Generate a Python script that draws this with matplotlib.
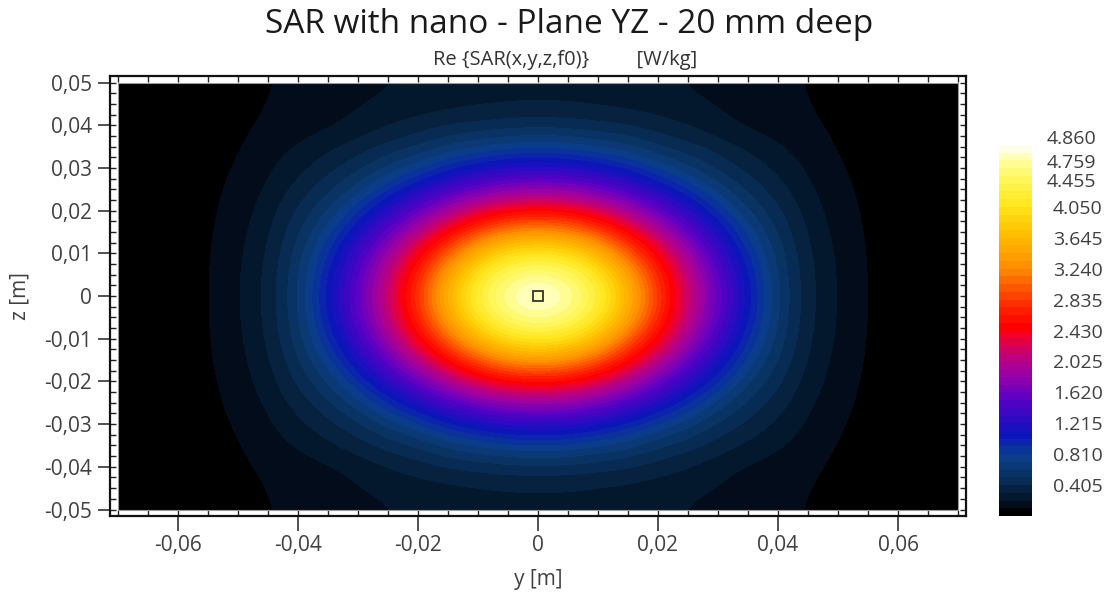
import numpy as np
import matplotlib
matplotlib.use("Agg")
import matplotlib.pyplot as plt
from matplotlib.colors import LinearSegmentedColormap, ListedColormap, Normalize
from matplotlib.ticker import FixedLocator, MultipleLocator, FuncFormatter
from matplotlib.patches import Rectangle
from matplotlib.transforms import offset_copy

plt.rcParams['font.family'] = ['Open Sans', 'DejaVu Sans']

# ---------------- data (one quadrant; the field is symmetric in y and z) ----------
y_quadrant = [0.0, 0.005, 0.01, 0.015, 0.02, 0.025, 0.03, 0.035, 0.04, 0.045, 0.05, 0.055, 0.06, 0.065, 0.07]
z_quadrant = [0.0, 0.005, 0.01, 0.015, 0.02, 0.025, 0.03, 0.035, 0.04, 0.045, 0.05]
sar_z000 = [4.86, 4.70, 4.30, 3.62, 2.82, 2.15, 1.58, 1.05, 0.60, 0.33, 0.19, 0.09, 0.05, 0.035, 0.025]
sar_z005 = [4.64, 4.51, 4.11, 3.46, 2.72, 2.08, 1.53, 1.01, 0.585, 0.325, 0.188, 0.089, 0.05, 0.035, 0.025]
sar_z010 = [4.14, 4.02, 3.64, 3.04, 2.44, 1.89, 1.37, 0.90, 0.55, 0.31, 0.18, 0.087, 0.05, 0.035, 0.025]
sar_z015 = [3.36, 3.26, 2.95, 2.51, 2.04, 1.59, 1.14, 0.76, 0.49, 0.285, 0.165, 0.083, 0.05, 0.035, 0.025]
sar_z020 = [2.52, 2.48, 2.26, 1.96, 1.60, 1.24, 0.89, 0.61, 0.42, 0.255, 0.148, 0.078, 0.048, 0.034, 0.025]
sar_z025 = [1.84, 1.80, 1.65, 1.43, 1.16, 0.90, 0.66, 0.48, 0.345, 0.22, 0.128, 0.073, 0.046, 0.033, 0.025]
sar_z030 = [1.25, 1.22, 1.11, 0.97, 0.78, 0.63, 0.48, 0.37, 0.275, 0.185, 0.108, 0.068, 0.045, 0.033, 0.025]
sar_z035 = [0.78, 0.76, 0.70, 0.63, 0.51, 0.44, 0.355, 0.28, 0.215, 0.152, 0.09, 0.063, 0.043, 0.032, 0.025]
sar_z040 = [0.47, 0.46, 0.43, 0.40, 0.35, 0.30, 0.235, 0.185, 0.15, 0.118, 0.08, 0.06, 0.042, 0.032, 0.025]
sar_z045 = [0.30, 0.295, 0.285, 0.27, 0.25, 0.225, 0.195, 0.16, 0.13, 0.103, 0.076, 0.058, 0.043, 0.033, 0.027]
sar_z050 = [0.27, 0.27, 0.26, 0.245, 0.225, 0.197, 0.17, 0.145, 0.12, 0.097, 0.075, 0.058, 0.044, 0.034, 0.028]

sar_min, sar_max = 0.0, 4.86
cbar_ticks = [0.405, 0.810, 1.215, 1.620, 2.025, 2.430, 2.835, 3.240, 3.645, 4.050]
cbar_extra_labels = ["4.455", "4.759", "4.860"]
x_ticks = [-0.06, -0.04, -0.02, 0.0, 0.02, 0.04, 0.06]
z_ticks = [-0.05, -0.04, -0.03, -0.02, -0.01, 0.0, 0.01, 0.02, 0.03, 0.04, 0.05]
probe_point = (0.0, 0.0)

title = "SAR with nano - Plane YZ - 20 mm deep"
subtitle = "Re {SAR(x,y,z,f0)}         [W/kg]"

# colour map stops (value, colour)
cmap_stops = [
    (0.00, "#000000"), (0.10, "#000000"), (0.15, "#020c1a"), (0.25, "#04182e"),
    (0.35, "#06223f"), (0.45, "#082b52"), (0.60, "#0a376c"), (0.75, "#0b3e88"),
    (0.90, "#0a2ea4"), (1.05, "#0a16b8"), (1.25, "#2a0cc2"), (1.55, "#5c00c4"),
    (1.85, "#9800a8"), (2.10, "#c0007a"), (2.35, "#f0002c"), (2.50, "#ff0000"),
    (2.80, "#ff3000"), (3.25, "#ff8c00"), (3.70, "#ffbf00"), (4.10, "#ffe820"),
    (4.45, "#fff860"), (4.70, "#ffffb0"), (4.86, "#ffffff"),
]
n_bands = 48

# ---------------- full symmetric grid -------------------------------------------
quad = np.array([sar_z000, sar_z005, sar_z010, sar_z015, sar_z020, sar_z025,
                 sar_z030, sar_z035, sar_z040, sar_z045, sar_z050])
half_rows = np.concatenate([quad[:, :0:-1], quad], axis=1)
field = np.concatenate([half_rows[:0:-1, :], half_rows], axis=0)
y_full = np.concatenate([-np.array(y_quadrant)[:0:-1], y_quadrant])
z_full = np.concatenate([-np.array(z_quadrant)[:0:-1], z_quadrant])

base = LinearSegmentedColormap.from_list(
    "sar_base", [(v / sar_max, c) for v, c in cmap_stops], N=512)
cmap = ListedColormap(base((np.arange(n_bands) + 0.5) / n_bands), name="sar")
norm = Normalize(vmin=sar_min, vmax=sar_max)

# ---------------- figure --------------------------------------------------------
fig = plt.figure(figsize=(11.05, 5.94), dpi=100)
ax = fig.add_axes([0.0995, 0.1313, 0.7747, 0.7407])
ax.set_facecolor("white")

# sample points sit at pixel centres; the drawn area is clipped to the data domain
dy = (y_full[1] - y_full[0]) / 2
dz = (z_full[1] - z_full[0]) / 2
extent = [y_full.min() - dy, y_full.max() + dy, z_full.min() - dz, z_full.max() + dz]
im = ax.imshow(field, origin="lower", extent=extent, cmap=cmap, norm=norm,
               interpolation="bicubic", aspect="auto", interpolation_stage="data")
domain = Rectangle((y_full.min(), z_full.min()), y_full.max() - y_full.min(),
                   z_full.max() - z_full.min(), fill=False, edgecolor="#9a9a9a",
                   lw=0.8, zorder=3, transform=ax.transData)
ax.add_patch(domain)
im.set_clip_path(domain)

ax.plot([probe_point[0]], [probe_point[1]], marker="s", markersize=7.5,
        markerfacecolor="none", markeredgecolor="#333333", markeredgewidth=1.3, zorder=4)

pad_x = 0.00133
pad_z = 0.00152
ax.set_xlim(y_full.min() - pad_x, y_full.max() + pad_x)
ax.set_ylim(z_full.min() - pad_z, z_full.max() + pad_z)

fmt = FuncFormatter(lambda v, p: "0" if abs(v) < 1e-12 else f"{v:.2f}".replace(".", ","))
ax.xaxis.set_major_locator(FixedLocator(x_ticks))
ax.yaxis.set_major_locator(FixedLocator(z_ticks))
ax.xaxis.set_major_formatter(fmt)
ax.yaxis.set_major_formatter(fmt)
ax.xaxis.set_minor_locator(MultipleLocator(0.005))
ax.yaxis.set_minor_locator(MultipleLocator(0.0025))
ax.xaxis.remove_overlapping_locs = False
ax.yaxis.remove_overlapping_locs = False

tick_col = "#404040"
ax.tick_params(which="major", direction="out", width=1.2, color="#333333",
               labelsize=15, labelcolor=tick_col)
ax.tick_params(axis="x", which="major", length=11, pad=3)
ax.tick_params(axis="y", which="major", length=9, pad=4)
ax.tick_params(which="minor", direction="in", length=4, width=1.0, color="#222222",
               top=True, right=True, bottom=True, left=True)
for sp in ax.spines.values():
    sp.set_linewidth(1.6)
    sp.set_color("#111111")

ax.set_xlabel("y [m]", fontsize=15, color=tick_col, labelpad=9)
ax.set_ylabel("z [m]", fontsize=15, color=tick_col, labelpad=10)

fig.text(0.515, 0.958, title, ha="center", va="center", fontsize=24, color="#1a1a1a")
fig.text(0.511, 0.899, subtitle, ha="center", va="center", fontsize=14.5, color="#333333")

# ---------------- colour bar ----------------------------------------------------
cax = fig.add_axes([0.904, 0.1313, 0.0299, 0.6246])
cb = fig.colorbar(im, cax=cax)
cb.outline.set_visible(False)
cb.set_ticks(cbar_ticks, labels=[f"{t:.3f}" for t in cbar_ticks])
cax.tick_params(length=0, pad=15, labelsize=14, labelcolor=tick_col)
trans = offset_copy(cax.transAxes, fig=fig, x=15, y=-3, units="dots")
for lab, frac in zip(cbar_extra_labels, [0.9080, 0.9590, 1.0230]):
    cax.text(1.0, frac, lab, transform=trans, ha="left", va="center",
             fontsize=14, color=tick_col)

fig.savefig("out.png", dpi=100)
